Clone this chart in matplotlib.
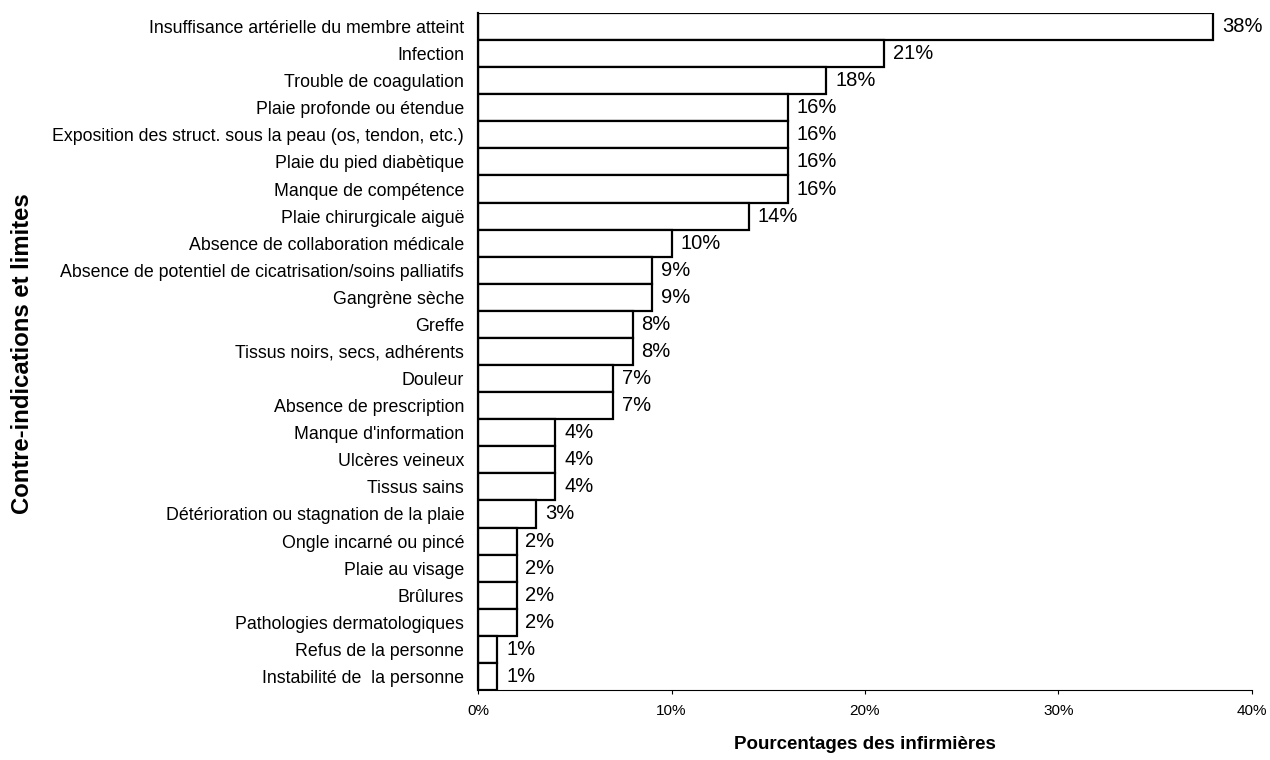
import matplotlib
matplotlib.use("Agg")
import matplotlib.pyplot as plt
from matplotlib.ticker import FuncFormatter

plt.rcParams['font.family'] = ['Liberation Sans', 'DejaVu Sans']

# contraindications, top to bottom
categories = [
    "Insuffisance artérielle du membre atteint",
    "Infection",
    "Trouble de coagulation",
    "Plaie profonde ou étendue",
    "Exposition des struct. sous la peau (os, tendon, etc.)",
    "Plaie du pied diabètique",
    "Manque de compétence",
    "Plaie chirurgicale aiguë",
    "Absence de collaboration médicale",
    "Absence de potentiel de cicatrisation/soins palliatifs",
    "Gangrène sèche",
    "Greffe",
    "Tissus noirs, secs, adhérents",
    "Douleur",
    "Absence de prescription",
    "Manque d'information",
    "Ulcères veineux",
    "Tissus sains",
    "Détérioration ou stagnation de la plaie",
    "Ongle incarné ou pincé",
    "Plaie au visage",
    "Brûlures",
    "Pathologies dermatologiques",
    "Refus de la personne",
    "Instabilité de  la personne",
]
percents = [38, 21, 18, 16, 16, 16, 16, 14, 10, 9, 9, 8, 8, 7, 7, 4, 4, 4, 3, 2, 2, 2, 2, 1, 1]
xticks = [0, 10, 20, 30, 40]

fig = plt.figure(figsize=(12.7, 7.6), dpi=100)
ax = fig.add_axes([0.3764, 0.0921, 0.6094, 0.8908])

ypos = list(range(len(categories)))[::-1]
ax.barh(ypos, percents, height=1.0, color='white', edgecolor='black', linewidth=1.6)

for y, v in zip(ypos, percents):
    ax.text(v + 0.45, y, f"{v}%", va='center', ha='left', fontsize=14.5)

ax.set_ylim(-0.5, len(categories) - 0.5)
ax.set_xlim(0, 40)
ax.set_yticks(ypos)
ax.set_yticklabels(categories, fontsize=12.8)
ax.tick_params(axis='y', length=0, pad=10)
ax.set_xticks(xticks)
ax.xaxis.set_major_formatter(FuncFormatter(lambda v, p: f"{v:.0f}%"))
ax.tick_params(axis='x', labelsize=11, length=3, width=0.8, pad=7)

for s in ['top', 'right']:
    ax.spines[s].set_visible(False)
ax.spines['left'].set_linewidth(1.6)
ax.spines['bottom'].set_linewidth(0.8)

fig.text(0.681, 0.02, "Pourcentages des infirmières", ha='center', va='center',
         fontsize=13.5, fontweight='bold')
fig.text(0.0175, 0.535, "Contre-indications et limites", ha='center', va='center',
         rotation=90, fontsize=17.2, fontweight='bold')

fig.savefig("out.png", dpi=100)
